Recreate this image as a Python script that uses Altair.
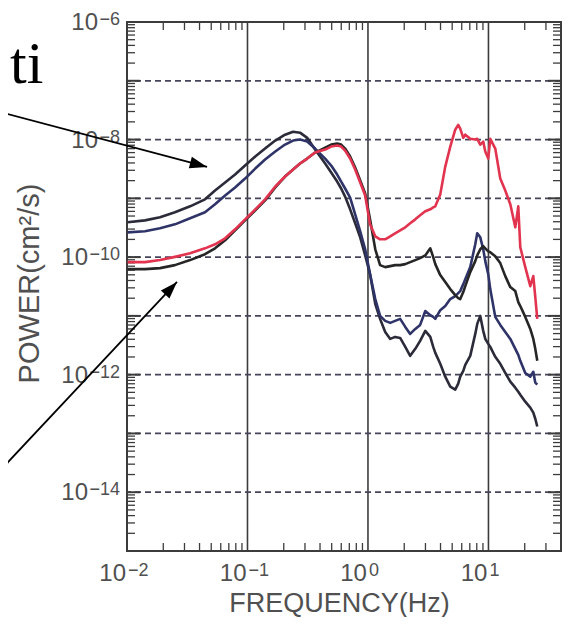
import altair as alt
import pandas as pd

# ---------------- data ----------------
freq = [0.0101, 0.0141, 0.0188, 0.0250, 0.0334, 0.0444, 0.0538, 0.0652, 0.0789, 0.0955,
        0.116, 0.140, 0.170, 0.205, 0.239, 0.273, 0.313, 0.364, 0.441, 0.495,
        0.555, 0.599, 0.646, 0.711, 0.783, 0.862, 0.948, 1.04, 1.15, 1.26,
        1.39, 1.53, 1.68, 1.85, 2.04, 2.24, 2.47, 2.71, 2.99, 3.29,
        3.48, 3.62, 3.98, 4.38, 4.82, 5.30, 5.61, 5.83, 6.18, 6.42,
        7.06, 7.77, 8.07, 8.55, 9.05, 9.41, 9.96, 10.35, 11.39, 12.53,
        13.79, 15.18, 16.70, 17.68, 18.37, 20.21, 22.24, 23.56, 24.47, 25.42]

power_red = [8.22e-11, 8.22e-11, 8.90e-11, 1.01e-10, 1.16e-10, 1.41e-10, 1.65e-10, 2.09e-10, 2.97e-10, 4.39e-10,
             6.50e-10, 9.62e-10, 1.59e-9, 2.35e-9, 3.09e-9, 3.91e-9, 4.75e-9, 6.01e-9, 6.76e-9, 7.60e-9,
             7.91e-9, 7.60e-9, 6.50e-9, 4.75e-9, 3.09e-9, 1.86e-9, 1.12e-9, 3.61e-10, 2.26e-10, 2.01e-10,
             2.01e-10, 2.26e-10, 2.54e-10, 2.86e-10, 3.21e-10, 3.76e-10, 4.39e-10, 5.14e-10, 6.01e-10, 6.50e-10,
             7.03e-10, 7.31e-10, 1.16e-9, 3.47e-9, 7.60e-9, 1.47e-8, 1.78e-8, 1.53e-8, 1.07e-8, 1.21e-8,
             1.03e-8, 1.00e-8, 1.03e-8, 8.22e-9, 9.25e-9, 6.25e-9, 4.75e-9, 1.03e-8, 7.03e-9, 2.17e-9,
             1.36e-9, 7.91e-10, 3.21e-10, 7.31e-10, 1.47e-10, 6.76e-11, 3.21e-11, 4.75e-11, 2.09e-11, 8.90e-12]

power_a = [3.91e-10, 4.22e-10, 4.75e-10, 5.78e-10, 7.31e-10, 9.62e-10, 1.36e-9, 1.86e-9, 2.54e-9, 3.61e-9,
           5.14e-9, 7.03e-9, 9.62e-9, 1.21e-8, 1.36e-8, 1.31e-8, 1.07e-8, 6.76e-9, 3.91e-9, 2.75e-9,
           1.93e-9, 1.47e-9, 1.07e-9, 6.50e-10, 3.76e-10, 2.17e-10, 1.07e-10, 5.14e-11, 1.59e-11, 8.90e-12,
           5.34e-12, 4.06e-12, 4.39e-12, 4.22e-12, 2.97e-12, 2.09e-12, 2.75e-12, 3.76e-12, 5.56e-12, 4.39e-12,
           2.97e-12, 2.35e-12, 1.53e-12, 9.25e-13, 6.25e-13, 5.56e-13, 7.03e-13, 9.25e-13, 1.16e-12, 1.47e-12,
           2.09e-12, 4.94e-12, 7.31e-12, 1.00e-11, 5.56e-12, 4.06e-12, 3.34e-12, 2.97e-12, 2.01e-12, 1.53e-12,
           1.07e-12, 7.60e-13, 6.01e-13, 5.14e-13, 4.57e-13, 3.47e-13, 2.75e-13, 2.26e-13, 1.78e-13, 1.31e-13]

power_b = [2.64e-10, 2.75e-10, 3.09e-10, 3.61e-10, 4.57e-10, 5.78e-10, 7.91e-10, 1.12e-9, 1.53e-9, 2.17e-9,
           3.21e-9, 4.57e-9, 6.25e-9, 8.22e-9, 9.62e-9, 1.00e-8, 9.25e-9, 7.03e-9, 4.75e-9, 3.61e-9,
           2.54e-9, 1.93e-9, 1.47e-9, 1.03e-9, 5.34e-10, 2.75e-10, 1.36e-10, 5.14e-11, 1.93e-11, 1.00e-11,
           8.22e-12, 7.60e-12, 8.22e-12, 8.90e-12, 6.50e-12, 4.94e-12, 6.01e-12, 7.03e-12, 1.21e-11, 1.03e-11,
           9.62e-12, 8.90e-12, 1.25e-11, 1.47e-11, 1.93e-11, 2.17e-11, 2.44e-11, 2.64e-11, 3.47e-11, 4.22e-11,
           6.76e-11, 1.65e-10, 2.54e-10, 2.17e-10, 1.36e-10, 8.55e-11, 5.14e-11, 2.86e-11, 9.62e-12, 7.03e-12,
           5.34e-12, 4.06e-12, 2.75e-12, 2.17e-12, 1.72e-12, 1.07e-12, 9.25e-13, 1.12e-12, 7.31e-13, 6.76e-13]

power_c = [6.25e-11, 6.25e-11, 6.50e-11, 7.31e-11, 8.90e-11, 1.12e-10, 1.41e-10, 1.93e-10, 2.86e-10, 4.22e-10,
           6.25e-10, 9.25e-10, 1.53e-9, 2.35e-9, 3.09e-9, 3.91e-9, 4.75e-9, 6.01e-9, 7.31e-9, 8.22e-9,
           8.55e-9, 8.22e-9, 7.03e-9, 5.14e-9, 3.34e-9, 2.01e-9, 1.21e-9, 4.39e-10, 1.36e-10, 7.31e-11,
           6.76e-11, 7.03e-11, 7.31e-11, 7.31e-11, 7.60e-11, 8.22e-11, 8.90e-11, 9.62e-11, 1.07e-10, 1.41e-10,
           1.00e-10, 7.60e-11, 4.94e-11, 3.76e-11, 2.86e-11, 2.26e-11, 2.01e-11, 1.93e-11, 2.54e-11, 3.21e-11,
           5.56e-11, 8.55e-11, 1.07e-10, 1.36e-10, 1.53e-10, 1.41e-10, 1.25e-10, 1.21e-10, 1.03e-10, 7.91e-11,
           4.75e-11, 3.09e-11, 2.64e-11, 1.72e-11, 1.47e-11, 9.62e-12, 6.01e-12, 4.06e-12, 2.75e-12, 1.72e-12]

# axis structure
x_domain = [0.01, 40]
y_domain = [1e-15, 1e-6]
x_solid_lines = [0.1, 1.0, 10.0]
y_dashed_lines = [1e-7, 1e-8, 1e-9, 1e-10, 1e-11, 1e-12, 1e-13, 1e-14]
x_label_values = [0.01, 0.1, 1.0, 10.0]
x_label_exponents = ["\u22122", "\u22121", "0", "1"]
y_label_values_1 = [1e-6, 1e-8]
y_label_exponents_1 = ["\u22126", "\u22128"]
y_label_values_2 = [1e-10, 1e-12, 1e-14]
y_label_exponents_2 = ["\u221210", "\u221212", "\u221214"]
mantissas = [2, 3, 4, 5, 6, 7, 8, 9]
x_minor_ticks = [m * 10.0 ** k for k in (-2, -1, 0, 1) for m in mantissas if m * 10.0 ** k < 40]
y_minor_ticks = [m * 10.0 ** k for k in range(-15, -6) for m in mantissas]
y_major_ticks = [10.0 ** k for k in range(-14, -6)]

# annotation arrows (start, tip) and the cut-off caption
arrow_f0 = [0.00088, 0.00088]
arrow_p0 = [2.94e-8, 2.31e-14]
arrow_f1 = [0.0462, 0.0260]
arrow_p1 = [3.42e-9, 3.79e-11]
arrow_angle = [14.9, 313.1]
caption_text = ["ti"]
caption_f = [0.00107]
caption_p = [9.2e-8]

# ---------------- chart ----------------
W, H = 434, 529
FONT = "Liberation Sans"
GREY = "#505050"
FRAME = "#3c3c3c"

xs = alt.Scale(type="log", domain=x_domain, nice=False)
ys = alt.Scale(type="log", domain=y_domain, nice=False)

x_axis = alt.Axis(labels=False, ticks=False, domain=False, grid=False,
                  title="FREQUENCY(Hz)", titleFont=FONT, titleFontSize=27,
                  titleFontWeight="normal", titleColor=GREY,
                  titleX=212, titleY=60, titleBaseline="alphabetic", titleAlign="center")
y_axis = alt.Axis(labels=False, ticks=False, domain=False, grid=False,
                  title="POWER(cm\u00b2/s)", titleFont=FONT, titleFontSize=29,
                  titleFontWeight="normal", titleColor=GREY, titleAngle=270,
                  titleX=-89, titleY=261, titleBaseline="alphabetic", titleAlign="center")


def X(field):
    return alt.X(field, type="quantitative", scale=xs, axis=x_axis)


def Y(field):
    return alt.Y(field, type="quantitative", scale=ys, axis=y_axis)


layers = []

# grid lines
layers.append(alt.Chart(pd.DataFrame({"f": x_solid_lines})).mark_rule(
    color=FRAME, strokeWidth=1.6).encode(x=X("f")))
layers.append(alt.Chart(pd.DataFrame({"p": y_dashed_lines})).mark_rule(
    color="#44445a", strokeWidth=1.7, strokeDash=[6, 4]).encode(y=Y("p")))

# inward ticks
xt = pd.DataFrame({"f": x_minor_ticks})
layers.append(alt.Chart(xt).mark_rule(color=FRAME, strokeWidth=1.3).encode(
    x=X("f"), y=alt.value(H), y2=alt.value(H - 8)))
layers.append(alt.Chart(xt).mark_rule(color=FRAME, strokeWidth=1.3).encode(
    x=X("f"), y=alt.value(0), y2=alt.value(8)))
yt = pd.DataFrame({"p": y_minor_ticks})
layers.append(alt.Chart(yt).mark_rule(color=FRAME, strokeWidth=1.3).encode(
    y=Y("p"), x=alt.value(0), x2=alt.value(8)))
layers.append(alt.Chart(yt).mark_rule(color=FRAME, strokeWidth=1.3).encode(
    y=Y("p"), x=alt.value(W), x2=alt.value(W - 8)))
ytm = pd.DataFrame({"p": y_major_ticks})
layers.append(alt.Chart(ytm).mark_rule(color=FRAME, strokeWidth=2).encode(
    y=Y("p"), x=alt.value(0), x2=alt.value(13)))
layers.append(alt.Chart(ytm).mark_rule(color=FRAME, strokeWidth=2).encode(
    y=Y("p"), x=alt.value(W), x2=alt.value(W - 13)))

# curves
def curve(vals, color, width=2.6):
    df = pd.DataFrame({"f": freq, "p": vals})
    return alt.Chart(df).mark_line(color=color, strokeWidth=width, clip=True,
                                   strokeJoin="round").encode(x=X("f"), y=Y("p"))

layers.append(curve(power_a, "#2b2b3a"))
layers.append(curve(power_b, "#2f3468"))
layers.append(curve(power_c, "#262626"))
layers.append(curve(power_red, "#e2334f"))

# tick labels (10 + superscript exponent)
xl = pd.DataFrame({"f": x_label_values, "e": x_label_exponents})
layers.append(alt.Chart(xl).mark_text(text="10", align="right", baseline="alphabetic",
    dx=-1, font=FONT, fontSize=24, color=GREY).encode(x=X("f"), y=alt.value(H + 30)))
layers.append(alt.Chart(xl).mark_text(align="left", baseline="alphabetic",
    dx=1, font=FONT, fontSize=18, color=GREY).encode(
    x=X("f"), y=alt.value(H + 25), text="e:N"))

for vals, exps, off in ((y_label_values_1, y_label_exponents_1, -29),
                        (y_label_values_2, y_label_exponents_2, -39)):
    yl = pd.DataFrame({"p": vals, "e": exps})
    layers.append(alt.Chart(yl).mark_text(text="10", align="right", baseline="alphabetic",
        dy=8, font=FONT, fontSize=24, color=GREY).encode(y=Y("p"), x=alt.value(off)))
    layers.append(alt.Chart(yl).mark_text(align="right", baseline="alphabetic",
        dy=3, font=FONT, fontSize=18, color=GREY).encode(
        y=Y("p"), x=alt.value(-7), text="e:N"))

# annotation arrows and caption
ann = pd.DataFrame({"f0": arrow_f0, "p0": arrow_p0, "f1": arrow_f1,
                    "p1": arrow_p1, "ang": arrow_angle})
layers.append(alt.Chart(ann).mark_rule(color="black", strokeWidth=1.8, clip=False).encode(
    x=X("f0"), y=Y("p0"), x2="f1", y2="p1"))
layers.append(alt.Chart(ann).mark_point(shape="M0,0L-2,-0.68L-2,0.68Z", filled=True,
    color="black", size=300, opacity=1, clip=False).encode(
    x=X("f1"), y=Y("p1"), angle=alt.Angle("ang:Q", scale=None)))
cap = pd.DataFrame({"f": caption_f, "p": caption_p, "t": caption_text})
layers.append(alt.Chart(cap).mark_text(align="left", baseline="alphabetic",
    font="Liberation Serif", fontSize=60, color="black", clip=False).encode(
    x=X("f"), y=Y("p"), text="t:N"))

chart = alt.layer(*layers).properties(
    width=W, height=H,
    autosize=alt.AutoSizeParams(type="none"),
    padding={"left": 119, "top": 14, "right": 2, "bottom": 66},
    background="white",
).configure_view(stroke=FRAME, strokeWidth=2)

chart.save("out.html", embed_options={"renderer": "svg", "actions": False})
